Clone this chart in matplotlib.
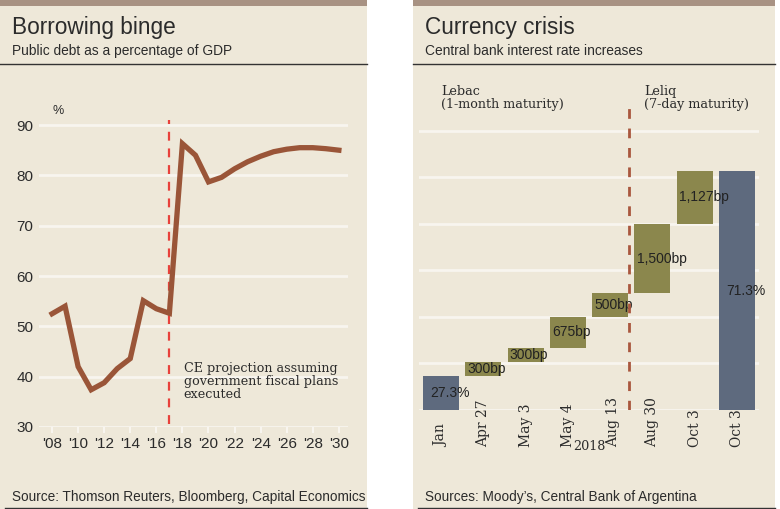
import matplotlib.pyplot as plt
from matplotlib.patches import Rectangle
from matplotlib.lines import Line2D

# left panel: public debt, % of GDP
years = list(range(2008, 2031))
debt = [52.5, 54.0, 42.0, 37.4, 38.8, 41.6, 43.6, 55.1, 53.5, 52.6,
        86.3, 84.0, 78.7, 79.6, 81.3, 82.7, 83.8, 84.7, 85.2, 85.5,
        85.5, 85.3, 85.0]
year_ticks = list(range(2008, 2031, 2))
projection_start = 2017

# right panel: interest rate waterfall
rate_labels = ["Jan", "Apr 27", "May 3", "May 4", "Aug 13", "Aug 30", "Oct 3", "Oct 3"]
start_rate = 27.3
hikes_bp = [300, 300, 675, 500, 1500, 1127]
end_rate = 71.3

BG = "#EEE8D9"
TOP = "#A89283"
GRID = "#F8F5EF"
W, H = 780, 509

fig = plt.figure(figsize=(7.8, 5.09), dpi=100)
fig.patch.set_facecolor("white")


def fx(px):
    return px / W


def fy(py):
    return 1 - py / H


def panel(x0, x1, title, subtitle, source):
    fig.patches.append(Rectangle((fx(x0), 0), fx(x1) - fx(x0), 1, transform=fig.transFigure,
                                 facecolor=BG, edgecolor="none", zorder=-2))
    fig.patches.append(Rectangle((fx(x0), fy(6)), fx(x1) - fx(x0), fy(0) - fy(6),
                                 transform=fig.transFigure, facecolor=TOP, edgecolor="none", zorder=-1))
    fig.lines.append(Line2D([fx(x0), fx(x1)], [fy(64), fy(64)], transform=fig.transFigure,
                            color="#333333", lw=1))
    fig.lines.append(Line2D([fx(x0 + 5), fx(x1)], [fy(508), fy(508)], transform=fig.transFigure,
                            color="#333333", lw=1))
    fig.text(fx(x0 + 12), fy(34), title, fontsize=16.3, color="#2b2b2b",
             family="Liberation Sans", va="baseline")
    fig.text(fx(x0 + 12), fy(55), subtitle, fontsize=9.9, color="#2b2b2b",
             family="Liberation Sans", va="baseline")
    fig.text(fx(x0 + 12), fy(501), source, fontsize=9.85, color="#2b2b2b",
             family="Liberation Sans", va="baseline")


panel(0, 367, "Borrowing binge", "Public debt as a percentage of GDP",
      "Source: Thomson Reuters, Bloomberg, Capital Economics")
panel(413, 775, "Currency crisis", "Central bank interest rate increases",
      "Sources: Moody\u2019s, Central Bank of Argentina")

serif = "DejaVu Serif"
ink = "#2b2b2b"

# ---- left chart
ax = fig.add_axes([fx(39), fy(427), fx(348) - fx(39), fy(120) - fy(427)])
ax.set_zorder(5)
ax.set_facecolor("none")
ax.set_xlim(2007.0, 2030.7)
ax.set_ylim(30, 91)
for v in range(30, 91, 10):
    ax.axhline(v, color=GRID, lw=2, zorder=1)
ax.plot(years, debt, color="#9A5538", lw=3.8, solid_joinstyle="miter", zorder=3)
ax.plot([projection_start, projection_start], [30.6, 91], color="#E8413B", lw=1.6,
        dashes=(4, 3.5), zorder=2)
ax.text(2018.1, 42.9, "CE projection assuming\ngovernment fiscal plans\nexecuted",
        family=serif, fontsize=9.2, color=ink, va="top", linespacing=0.98)
ax.text(2008.0, 91.5, "%", fontsize=9, family="Liberation Sans", color=ink,
        ha="left", va="bottom")
ax.set_yticks(range(30, 91, 10))
ax.set_xticks(year_ticks)
ax.set_xticklabels(["'%02d" % (y % 100) for y in year_ticks])
ax.tick_params(axis="y", length=0, pad=4, labelsize=11, labelcolor=ink)
ax.tick_params(axis="x", length=4, width=1.5, color=GRID, pad=3, labelsize=11, labelcolor=ink)
for lab in ax.get_xticklabels() + ax.get_yticklabels():
    lab.set_family("Liberation Sans")
for s in ax.spines.values():
    s.set_visible(False)

# ---- right chart
ax2 = fig.add_axes([fx(419), fy(410), fx(759) - fx(419), fy(103) - fy(410)])
ax2.set_zorder(5)
ax2.set_facecolor("none")
floor = 20
ax2.set_xlim(-0.52, 7.52)
ax2.set_ylim(floor, 86)
for v in range(20, 81, 10):
    ax2.axhline(v, color=GRID, lw=2, zorder=1)

bw = 0.85
grey = "#5E6A7E"
olive = "#8B874D"
lab_kw = dict(fontsize=10, family="Liberation Sans", color="#222222", va="center",
              ha="left", zorder=4)
ax2.bar(0, start_rate - floor, bottom=floor, width=bw, color=grey, zorder=3)
ax2.text(0 - bw / 2 + 0.16, (start_rate + floor) / 2, "%.1f%%" % start_rate, **lab_kw)
level = start_rate
for i, bp in enumerate(hikes_bp, start=1):
    step = bp / 100
    ax2.bar(i, step, bottom=level, width=bw, color=olive, zorder=3)
    ax2.text(i - bw / 2 + 0.05, level + step / 2, "{:,}bp".format(bp), **lab_kw)
    level += step
n = len(hikes_bp) + 1
ax2.bar(n, end_rate - floor, bottom=floor, width=bw, color=grey, zorder=3)
ax2.text(n - bw / 2 + 0.18, (end_rate + floor) / 2, "%.1f%%" % end_rate, **lab_kw)

ax2.plot([4.44, 4.44], [floor, 85], color="#A9573E", lw=2, dashes=(3.5, 3.5), zorder=5)
ax2.text(0.0, 84.3, "Lebac\n(1-month maturity)", family=serif, fontsize=9.2,
         color=ink, va="bottom", ha="left", linespacing=0.95)
ax2.text(4.8, 84.3, "Leliq\n(7-day maturity)", family=serif, fontsize=9.2,
         color=ink, va="bottom", ha="left", linespacing=0.95)

for i, lab in enumerate(rate_labels):
    xpos = i + 0.08 if lab == "Aug 13" else i
    ax2.text(xpos, floor - 7.9, lab, rotation=90, ha="center", va="bottom", family=serif,
             fontsize=10, color=ink, clip_on=False)
ax2.text(3.5, floor - 7.9, "2018", ha="center", va="center", family=serif,
         fontsize=9.2, color=ink)
ax2.set_xticks([])
ax2.set_yticks([])
for s in ax2.spines.values():
    s.set_visible(False)

fig.savefig("out.png", dpi=100, facecolor="white")
